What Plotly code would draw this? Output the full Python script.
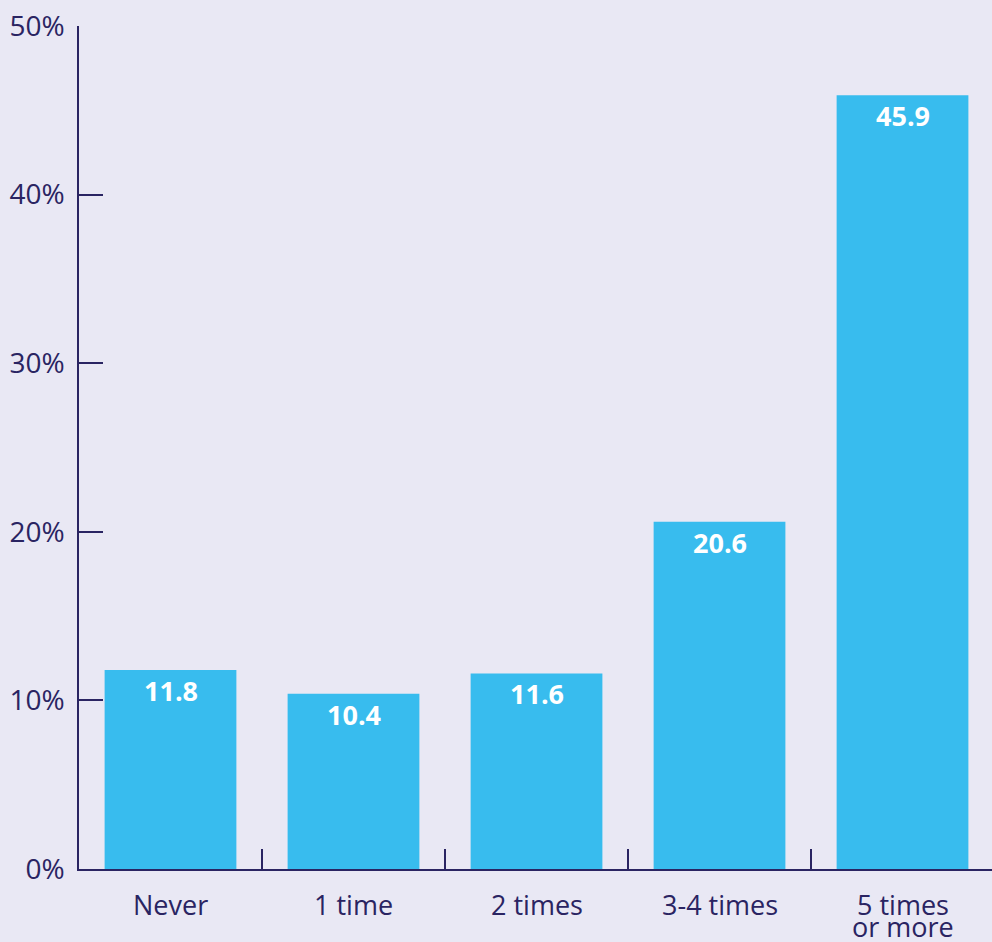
import plotly.graph_objects as go

# Survey results: share of respondents by frequency
categories = ["Never", "1 time", "2 times", "3-4 times", "5 times\nor more"]
values = [11.8, 10.4, 11.6, 20.6, 45.9]
y_ticks = [0, 10, 20, 30, 40, 50]
y_tick_labels = ["0%", "10%", "20%", "30%", "40%", "50%"]

BG = "#E9E8F4"
BAR = "#38BCEE"
INK = "#2A2462"
FONT = "Open Sans"

fig = go.Figure(
    go.Bar(
        x=categories,
        y=values,
        marker=dict(color=BAR, line=dict(width=0)),
        width=0.72,
        hoverinfo="skip",
    )
)

annotations = []
# value labels inside the top of each bar
for cat, v in zip(categories, values):
    annotations.append(dict(
        x=cat, y=v, xref="x", yref="y", yanchor="top", xanchor="center",
        yshift=0, showarrow=False, text=f"<b>{v:.1f}</b>",
        font=dict(family=FONT, size=27, color="white"),
    ))

# category labels below the axis, tight line spacing for wrapped labels
for cat in categories:
    for li, line in enumerate(cat.split("\n")):
        annotations.append(dict(
            x=cat, y=0, xref="x", yref="paper", yanchor="top", xanchor="center",
            yshift=-15 - 22 * li, showarrow=False, text=line,
            font=dict(family=FONT, size=27, color=INK),
        ))

fig.update_layout(
    width=992, height=942,
    margin=dict(l=79, r=0, t=26, b=73),
    paper_bgcolor=BG, plot_bgcolor=BG,
    showlegend=False,
    annotations=annotations,
    font=dict(family=FONT, color=INK),
)

fig.update_xaxes(
    type="category",
    range=[-0.5, 4.489],
    showticklabels=False,
    ticks="inside", tickson="boundaries", ticklen=20, tickwidth=1.5, tickcolor=INK,
    showline=True, linecolor=INK, linewidth=2,
    showgrid=False, zeroline=False,
)

fig.update_yaxes(
    range=[0, 50],
    tickvals=y_ticks, ticktext=y_tick_labels,
    ticks="inside", ticklen=24, tickwidth=1.5, tickcolor=INK,
    ticklabelstandoff=7,
    tickfont=dict(family=FONT, size=28, color=INK),
    showline=True, linecolor=INK, linewidth=1.5,
    showgrid=False, zeroline=False,
)

fig.write_html("out.html")
